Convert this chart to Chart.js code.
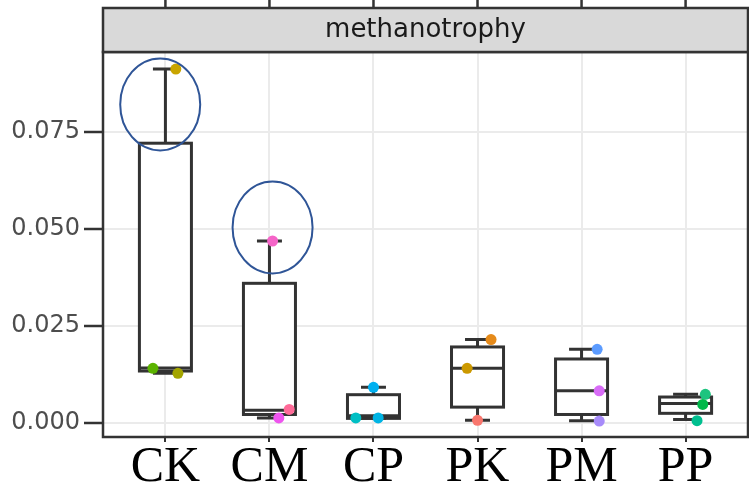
<!DOCTYPE html>
<html>
<head>
<meta charset="utf-8">
<script src="https://cdn.jsdelivr.net/npm/chart.js@4/dist/chart.umd.min.js"></script>
<style>
  html, body { margin: 0; padding: 0; background: #fff; }
  canvas { display: block; }
</style>
</head>
<body>
<canvas id="chart" width="749" height="486"></canvas>
<script>
// categories and box statistics
const groups = ['CK', 'CM', 'CP', 'PK', 'PM', 'PP'];
const whiskerLow = [0.0127, 0.0012, 0.0011, 0.0006, 0.0005, 0.0008];
const q1 = [0.0133, 0.0021, 0.0011, 0.0040, 0.0021, 0.0024];
const median = [0.0141, 0.0032, 0.0018, 0.0140, 0.0082, 0.0049];
const q3 = [0.0720, 0.0359, 0.0072, 0.0195, 0.0164, 0.0066];
const whiskerHigh = [0.0911, 0.0468, 0.0091, 0.0214, 0.0189, 0.0073];

// the jittered samples (value, and x offset in category units)
const pointValues = [
    [0.0911, 0.0140, 0.0127],
    [0.0468, 0.0034, 0.0012],
    [0.0091, 0.0012, 0.0012],
    [0.0214, 0.0140, 0.0006],
    [0.0189, 0.0082, 0.0004],
    [0.0073, 0.0047, 0.0005]
];
const pointJitter = [
    [0.10, -0.12, 0.12],
    [0.03, 0.19, 0.09],
    [0.00, -0.17, 0.045],
    [0.13, -0.10, 0.00],
    [0.15, 0.17, 0.17],
    [0.19, 0.165, 0.11]
];
const pointColors = [
    ['#C9A500', '#5BB300', '#A3A500'],
    ['#F564C8', '#FF6A98', '#EE55EE'],
    ['#00B0F0', '#00BFC4', '#00B4E4'],
    ['#E58A1A', '#CC9900', '#F8766D'],
    ['#5B9BFF', '#D86CF7', '#A78BFA'],
    ['#1DC47F', '#00B84A', '#00BF8F']
];

const yTicks = [0, 0.025, 0.05, 0.075];
const stripLabel = 'methanotrophy';

// circled points: [category position, value]
const highlights = [[-0.05, 0.0820], [1.03, 0.0503]];

const scatterData = [];
const scatterColors = [];
groups.forEach((g, i) => {
    pointValues[i].forEach((v, j) => {
        scatterData.push({ x: i + pointJitter[i][j], y: v });
        scatterColors.push(pointColors[i][j]);
    });
});

const boxPlugin = {
    id: 'boxes',
    beforeDatasetsDraw(chart) {
        const { ctx, scales: { x, y } } = chart;
        ctx.save();
        ctx.strokeStyle = '#333333';
        ctx.lineWidth = 3;
        groups.forEach((g, i) => {
            const cx = x.getPixelForValue(i);
            const hw = x.getPixelForValue(i + 0.25) - cx;
            const cw = x.getPixelForValue(i + 0.12) - cx;
            const yLo = y.getPixelForValue(whiskerLow[i]);
            const yQ1 = y.getPixelForValue(q1[i]);
            const yMed = y.getPixelForValue(median[i]);
            const yQ3 = y.getPixelForValue(q3[i]);
            const yHi = y.getPixelForValue(whiskerHigh[i]);
            ctx.beginPath();
            ctx.moveTo(cx, yQ3); ctx.lineTo(cx, yHi);
            ctx.moveTo(cx - cw, yHi); ctx.lineTo(cx + cw, yHi);
            ctx.moveTo(cx, yQ1); ctx.lineTo(cx, yLo);
            ctx.moveTo(cx - cw, yLo); ctx.lineTo(cx + cw, yLo);
            ctx.stroke();
            ctx.fillStyle = '#ffffff';
            ctx.fillRect(cx - hw, yQ3, hw * 2, yQ1 - yQ3);
            ctx.strokeRect(cx - hw, yQ3, hw * 2, yQ1 - yQ3);
            ctx.beginPath();
            ctx.moveTo(cx - hw, yMed); ctx.lineTo(cx + hw, yMed);
            ctx.stroke();
        });
        ctx.restore();
    },
    afterDatasetsDraw(chart) {
        const { ctx, scales: { x, y } } = chart;
        ctx.save();
        ctx.strokeStyle = '#2F5597';
        ctx.lineWidth = 2;
        highlights.forEach(h => {
            ctx.beginPath();
            ctx.ellipse(x.getPixelForValue(h[0]), y.getPixelForValue(h[1]), 40, 46, 0, 0, Math.PI * 2);
            ctx.stroke();
        });
        ctx.restore();
    },
    afterDraw(chart) {
        const { ctx, chartArea: a, scales: { x } } = chart;
        ctx.save();
        // panel border
        ctx.strokeStyle = '#333333';
        ctx.lineWidth = 2.5;
        ctx.strokeRect(a.left, a.top, a.right - a.left, a.bottom - a.top);
        // facet strip
        const sTop = 8;
        ctx.fillStyle = '#D9D9D9';
        ctx.fillRect(a.left, sTop, a.right - a.left, a.top - sTop);
        ctx.strokeRect(a.left, sTop, a.right - a.left, a.top - sTop);
        ctx.fillStyle = '#1A1A1A';
        ctx.font = '26px "DejaVu Sans"';
        ctx.textAlign = 'center';
        ctx.textBaseline = 'middle';
        ctx.fillText(stripLabel, (a.left + a.right) / 2, (sTop + a.top) / 2);
        // ticks of the panel above, cut off
        ctx.lineWidth = 2.5;
        ctx.beginPath();
        groups.forEach((g, i) => {
            const px = x.getPixelForValue(i);
            ctx.moveTo(px, 0); ctx.lineTo(px, sTop);
        });
        ctx.stroke();
        ctx.restore();
    }
};

const myChart = new Chart(document.querySelector('#chart'), {
    type: 'scatter',
    data: {
        datasets: [{
            data: scatterData,
            pointBackgroundColor: scatterColors,
            pointBorderColor: scatterColors,
            pointRadius: 5.5,
            pointBorderWidth: 0
        }]
    },
    options: {
        responsive: false,
        animation: false,
        layout: { autoPadding: false, padding: { top: 52, right: 1, left: 0, bottom: 0 } },
        plugins: { legend: { display: false }, tooltip: { enabled: false } },
        scales: {
            x: {
                type: 'linear',
                min: -0.6,
                max: 5.6,
                afterBuildTicks: s => { s.ticks = groups.map((g, i) => ({ value: i })); },
                afterFit: s => {
                    s.height = 49;
                    s.paddingLeft = 0;
                    s.paddingRight = 0;
                },
                ticks: {
                    callback: v => groups[v],
                    autoSkip: false,
                    maxRotation: 0,
                    padding: -4,
                    color: '#000000',
                    font: { family: 'Liberation Serif', size: 50 }
                },
                grid: { color: '#EBEBEB', lineWidth: 2, tickColor: '#333333', tickLength: 5, tickWidth: 2 },
                border: { display: false }
            },
            y: {
                min: -0.0037,
                max: 0.0955,
                afterBuildTicks: s => { s.ticks = yTicks.map(v => ({ value: v })); },
                afterFit: s => { s.width = 103; },
                ticks: {
                    callback: v => v.toFixed(3),
                    padding: 4,
                    color: '#4D4D4D',
                    font: { family: 'DejaVu Sans', size: 24 }
                },
                grid: { color: '#EBEBEB', lineWidth: 2, tickColor: '#333333', tickLength: 19, tickWidth: 2.5 },
                border: { display: false }
            }
        }
    },
    plugins: [boxPlugin]
});
</script>
</body>
</html>
